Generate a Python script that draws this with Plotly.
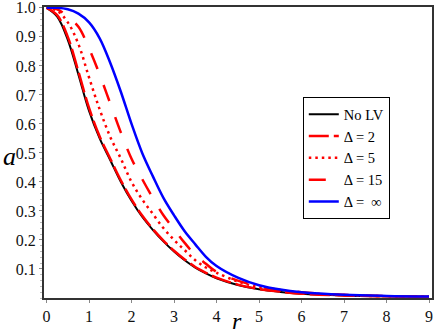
import plotly.graph_objects as go

# r grid and profiles a(r)
r = [0, 0.25, 0.5, 0.75, 1.0, 1.25, 1.5, 1.75, 2.0, 2.25, 2.5, 2.75, 3.0,
     3.25, 3.5, 3.75, 4.0, 4.5, 5.0, 5.5, 6.0, 7.0, 8.0, 9.0]

a_nolv = [1.0, 0.97, 0.89, 0.77, 0.645, 0.55, 0.475, 0.40, 0.335, 0.28, 0.235, 0.195, 0.16,
          0.13, 0.105, 0.085, 0.068, 0.045, 0.03, 0.021, 0.015, 0.009, 0.006, 0.004]
a_d2 = [1.0, 0.975, 0.90, 0.78, 0.655, 0.557, 0.48, 0.405, 0.34, 0.284, 0.238, 0.198, 0.163,
        0.133, 0.107, 0.087, 0.07, 0.046, 0.031, 0.022, 0.015, 0.009, 0.006, 0.004]
a_d5 = [1.0, 0.99, 0.95, 0.875, 0.76, 0.65, 0.555, 0.48, 0.40, 0.34, 0.29, 0.241, 0.20,
        0.165, 0.13, 0.105, 0.087, 0.057, 0.037, 0.026, 0.018, 0.01, 0.006, 0.005]
a_d15 = [1.0, 0.995, 0.97, 0.935, 0.86, 0.77, 0.67, 0.57, 0.48, 0.41, 0.345, 0.285, 0.237,
         0.19, 0.148, 0.118, 0.09, 0.06, 0.04, 0.028, 0.02, 0.011, 0.007, 0.005]
a_dinf = [1.0, 1.0, 0.995, 0.98, 0.95, 0.895, 0.81, 0.71, 0.60, 0.50, 0.42, 0.345, 0.285,
          0.23, 0.185, 0.142, 0.11, 0.07, 0.044, 0.029, 0.02, 0.011, 0.007, 0.005]

x_ticks = [0, 1, 2, 3, 4, 5, 6, 7, 8, 9]
y_ticks = [0.1, 0.2, 0.3, 0.4, 0.5, 0.6, 0.7, 0.8, 0.9, 1.0]
y_tick_text = ['0.1', '0.2', '0.3', '0.4', '0.5', '0.6', '0.7', '0.8', '0.9', '1.0']

serif = 'Liberation Serif'

fig = go.Figure()
fig.add_trace(go.Scatter(x=r, y=a_nolv, name='No LV', mode='lines', line_shape='spline',
                         line=dict(color='black', width=2)))
fig.add_trace(go.Scatter(x=r, y=a_d2, name='Δ = 2', mode='lines', line_shape='spline',
                         line=dict(color='#ff0000', width=2.5, dash='20px,5px')))
fig.add_trace(go.Scatter(x=r, y=a_d5, name='Δ = 5', mode='lines', line_shape='spline',
                         line=dict(color='#ff0000', width=2.5, dash='2.5px,4px')))
fig.add_trace(go.Scatter(x=r, y=a_d15, name='Δ = 15', mode='lines', line_shape='spline',
                         line=dict(color='#ff0000', width=2.5, dash='17px,17px')))
fig.add_trace(go.Scatter(x=r, y=a_dinf, name='Δ =  ∞', mode='lines', line_shape='spline',
                         line=dict(color='#0000ff', width=2.5)))

# plot area in pixels: x 44..432, y 7..298
fig.update_layout(
    width=436, height=334,
    margin=dict(l=44, r=4, t=7, b=36, autoexpand=False),
    paper_bgcolor='white', plot_bgcolor='white',
    font=dict(family=serif, size=15, color='#111'),
    showlegend=True,
    legend=dict(x=0.667, y=0.69, xanchor='left', yanchor='top',
                bgcolor='white', bordercolor='black', borderwidth=1,
                font=dict(family=serif, size=14.5, color='black'),
                tracegroupgap=0, itemwidth=30),
    annotations=[
        dict(text='<i>a</i>', x=(1 - 44) / 388, y=(298 - 156) / 291,
             xanchor='left', yanchor='middle',
             xref='paper', yref='paper', showarrow=False,
             font=dict(family=serif, size=26, color='black')),
        dict(text='<i>r</i>', x=(237 - 44) / 388, y=(298 - 306) / 291,
             xanchor='center', yanchor='top',
             xref='paper', yref='paper', showarrow=False,
             font=dict(family=serif, size=24, color='black')),
    ],
)

fig.update_xaxes(range=[-0.06, 9.07], tickvals=x_ticks, showgrid=False, zeroline=False,
                 automargin=False, ticklabeloverflow='allow',
                 showline=True, linecolor='#333', linewidth=2, mirror=True,
                 ticks='outside', ticklen=3, tickcolor='#888',
                 tickfont=dict(family=serif, size=16, color='#111'))
fig.update_yaxes(range=[0, 1.003], tickvals=y_ticks, ticktext=y_tick_text, showgrid=False,
                 automargin=False, ticklabeloverflow='allow',
                 zeroline=False, showline=True, linecolor='#333', linewidth=2, mirror=True,
                 ticks='outside', ticklen=3, tickcolor='#888',
                 minor=dict(ticks='outside', ticklen=2, dtick=0.02, tickcolor='#bbb'),
                 tickfont=dict(family=serif, size=16, color='#111'))

# drop the default page margin so the figure sits at the window's top-left
fig.write_html("out.html", config={'displayModeBar': False},
               post_script="document.body.style.margin='0';")
